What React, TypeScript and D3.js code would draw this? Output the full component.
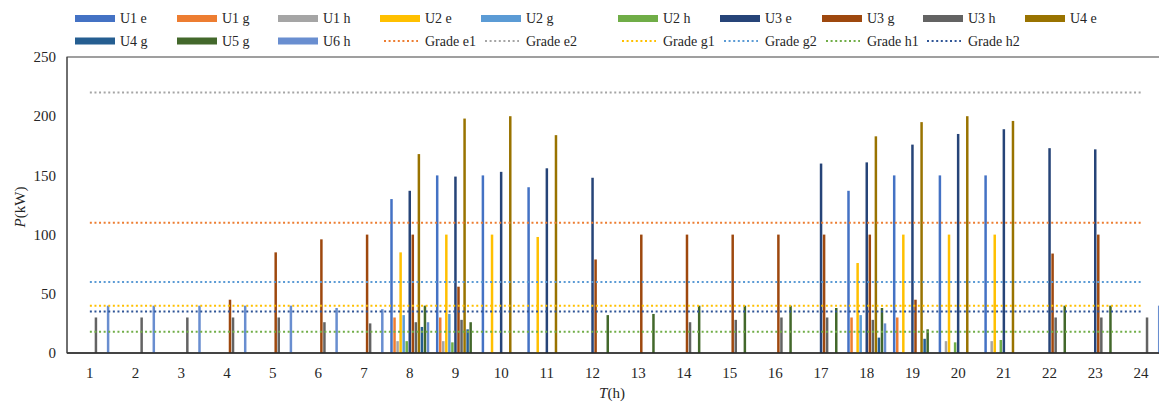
import React from "react";
import * as d3 from "d3";

const hours = [1,2,3,4,5,6,7,8,9,10,11,12,13,14,15,16,17,18,19,20,21,22,23,24];
const yTicks = [0, 50, 100, 150, 200, 250];

const U1e = [0,0,0,0,0,0,0,130,150,150,140,0,0,0,0,0,0,137,150,150,150,0,0,0];
const U1g = [0,0,0,0,0,0,0,30,30,0,0,0,0,0,0,0,0,30,30,0,0,0,0,0];
const U1h = [0,0,0,0,0,0,0,10,10,0,0,0,0,0,0,0,0,0,0,10,10,0,0,0];
const U2e = [0,0,0,0,0,0,0,85,100,100,98,0,0,0,0,0,0,76,100,100,100,0,0,0];
const U2g = [0,0,0,0,0,0,0,32,33,0,0,0,0,0,0,0,0,32,0,0,0,0,0,0];
const U2h = [0,0,0,0,0,0,0,10,9,0,0,0,0,0,0,0,0,0,0,9,11,0,0,0];
const U3e = [0,0,0,0,0,0,0,137,149,153,156,148,0,0,0,0,160,161,176,185,189,173,172,0];
const U3g = [0,0,0,45,85,96,100,100,56,0,0,79,100,100,100,100,100,100,45,0,0,84,100,0];
const U3h = [30,30,30,30,30,26,25,26,28,0,0,0,0,26,28,30,30,28,0,0,0,30,30,30];
const U4e = [0,0,0,0,0,0,0,168,198,200,184,0,0,0,0,0,0,183,195,200,196,0,0,0];
const U4g = [0,0,0,0,0,0,0,22,20,0,0,0,0,0,0,0,0,13,12,0,0,0,0,0];
const U5g = [0,0,0,0,0,0,0,40,26,0,0,32,33,40,40,40,38,38,20,0,0,40,40,0];
const U6h = [40,40,40,40,40,38,37,26,0,0,0,0,0,0,0,0,0,25,0,0,0,0,0,40];

const barSeries = [
  { name: "U1 e", values: U1e, color: "#4472C4" },
  { name: "U1 g", values: U1g, color: "#ED7D31" },
  { name: "U1 h", values: U1h, color: "#A5A5A5" },
  { name: "U2 e", values: U2e, color: "#FFC000" },
  { name: "U2 g", values: U2g, color: "#5B9BD5" },
  { name: "U2 h", values: U2h, color: "#70AD47" },
  { name: "U3 e", values: U3e, color: "#264478" },
  { name: "U3 g", values: U3g, color: "#9E480E" },
  { name: "U3 h", values: U3h, color: "#636363" },
  { name: "U4 e", values: U4e, color: "#997300" },
  { name: "U4 g", values: U4g, color: "#255E91" },
  { name: "U5 g", values: U5g, color: "#43682B" },
  { name: "U6 h", values: U6h, color: "#698ED0" },
];

const gradeNames = ["Grade e1", "Grade e2", "Grade g1", "Grade g2", "Grade h1", "Grade h2"];
const gradeValues = [110, 220, 40, 60, 18, 35];
const gradeColors = ["#ED7D31", "#A5A5A5", "#FFC000", "#5B9BD5", "#70AD47", "#2F5597"];

const W = 1159, H = 403;
const plotL = 67, plotT = 57, plotB = 353, step = 45.7;
const plotR = plotL + step * hours.length;
const font = "'Liberation Serif', 'Times New Roman', serif";
const textColor = "#262626";

const legendCols = [75, 177, 278, 380, 481, 618, 720, 822, 923, 1025];
const legendRows = [18.5, 41];

export default function App() {
  const x = d3.scaleBand<number>().domain(hours).range([plotL, plotR]).padding(0);
  const cx = (h: number) => (x(h) as number) + x.bandwidth() / 2;
  const inner = d3.scaleBand<string>().domain(barSeries.map(s => s.name)).range([-19.5, 19.5]).paddingInner(0.18);
  const y = d3.scaleLinear().domain([0, 250]).range([plotB, plotT]);
  const line = d3.line<[number, number]>().x(d => d[0]).y(d => d[1]);

  const legendItems: { name: string; color: string; kind: "bar" | "line" }[] = [
    ...barSeries.map(s => ({ name: s.name, color: s.color, kind: "bar" as const })),
    ...gradeNames.map((n, i) => ({ name: n, color: gradeColors[i], kind: "line" as const })),
  ];

  return (
    <svg width={W} height={H} style={{ position: "absolute", left: 0, top: 0, background: "#fff" }} fontFamily={font}>
      {/* plot frame */}
      <rect x={plotL} y={plotT} width={plotR - plotL} height={plotB - plotT} fill="none" stroke="#404040" strokeWidth={1} />
      {/* bars */}
      {barSeries.map(s => (
        <g key={s.name}>
          {s.values.map((v, i) =>
            v > 0 ? (
              <rect
                key={i}
                x={cx(hours[i]) + (inner(s.name) as number)}
                y={y(v)}
                width={inner.bandwidth()}
                height={y(0) - y(v)}
                fill={s.color}
              />
            ) : null
          )}
        </g>
      ))}
      {/* grade lines */}
      {gradeValues.map((g, i) => (
        <path
          key={gradeNames[i]}
          d={line([[cx(hours[0]), y(g)], [cx(hours[hours.length - 1]), y(g)]]) || ""}
          stroke={gradeColors[i]}
          strokeWidth={2}
          strokeDasharray="2 2.6"
          fill="none"
        />
      ))}
      {/* axes */}
      <line x1={plotL} x2={plotR} y1={plotB} y2={plotB} stroke="#262626" strokeWidth={1.5} />
      <line x1={plotL} x2={plotL} y1={plotT} y2={plotB} stroke="#404040" strokeWidth={1} />
      {yTicks.map(t => (
        <text key={t} x={56} y={y(t)} dy="0.35em" textAnchor="end" fontSize={15} fill={textColor}>{t}</text>
      ))}
      {hours.map(h => (
        <text key={h} x={cx(h)} y={378} textAnchor="middle" fontSize={15} fill={textColor}>{h}</text>
      ))}
      <text transform={`translate(25,${(plotT + plotB) / 2 + 2}) rotate(-90)`} textAnchor="middle" fontSize={15} fill={textColor}>
        <tspan fontStyle="italic">P</tspan>(kW)
      </text>
      <text x={612} y={398} textAnchor="middle" fontSize={15} fill={textColor}>
        <tspan fontStyle="italic">T</tspan>(h)
      </text>
      {/* legend */}
      {legendItems.map((it, i) => {
        const row = i < 10 ? 0 : 1;
        const col = i < 10 ? i : i - 10;
        const lx = legendCols[col];
        const ly = legendRows[row];
        return (
          <g key={it.name}>
            {it.kind === "bar" ? (
              <rect x={lx} y={ly - 3.5} width={40} height={7} fill={it.color} />
            ) : (
              <line x1={lx + 4} x2={lx + 38} y1={ly} y2={ly} stroke={it.color} strokeWidth={2} strokeDasharray="2 2.6" />
            )}
            <text x={lx + 45} y={ly} dy="0.35em" fontSize={14} fill={textColor}>{it.name}</text>
          </g>
        );
      })}
    </svg>
  );
}
